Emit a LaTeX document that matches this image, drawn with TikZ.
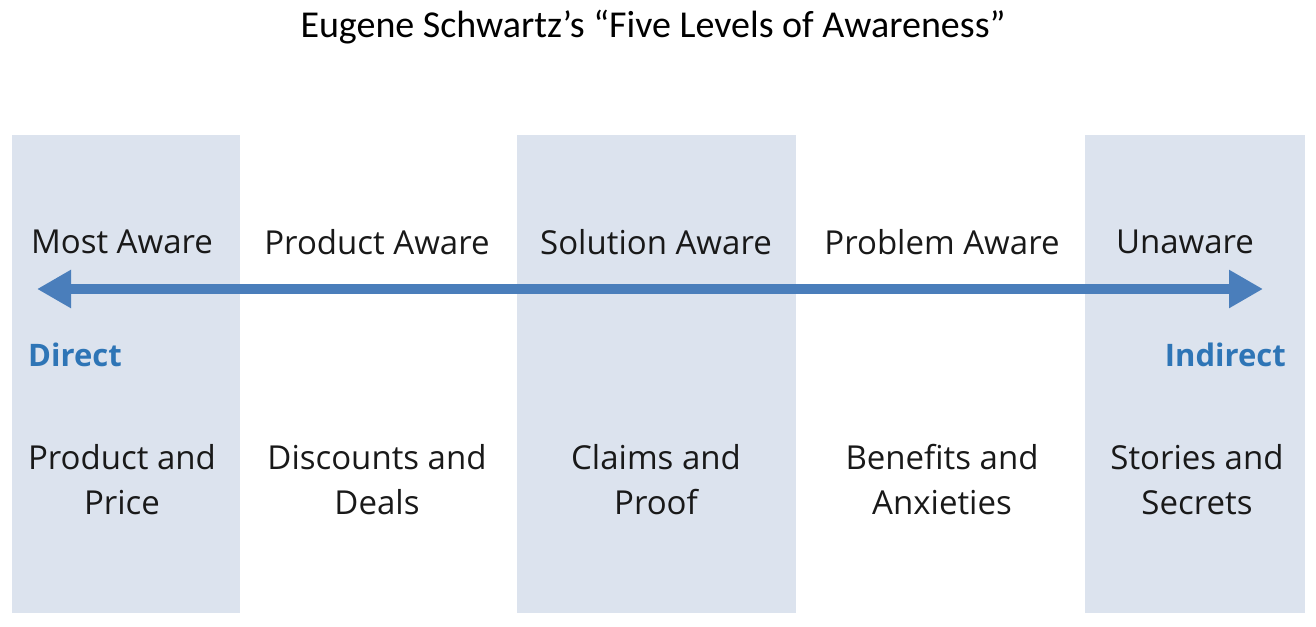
\documentclass[tikz,border=0pt]{standalone}
\usepackage{fontspec}
\setmainfont{Open Sans}
\newfontfamily\titlefont{Carlito}
\usetikzlibrary{arrows.meta}
\definecolor{colbg}{HTML}{DCE3EE}
\definecolor{arrblue}{HTML}{4A7EBB}
\definecolor{lblblue}{HTML}{2E75B6}
\tikzset{
  level/.style={font=\fontsize{33}{38}\selectfont, text=black!90, anchor=center, inner sep=0pt},
  tactic/.style={font=\fontsize{33}{45}\selectfont, text=black!90, align=center, anchor=center, inner sep=0pt},
  mode/.style={font=\fontsize{31}{36}\selectfont\bfseries, text=lblblue, inner sep=0pt},
}
\begin{document}
\begin{tikzpicture}[x=1pt,y=-1pt]
\useasboundingbox (0,0) rectangle (1316,626);
\fill[colbg] (12,135) rectangle (240,613);
\fill[colbg] (517,135) rectangle (796,613);
\fill[colbg] (1085,135) rectangle (1305,613);
\node[font=\titlefont\fontsize{38}{44}\selectfont, inner sep=0pt] (title) at (653,27) {Eugene Schwartz’s “Five Levels of Awareness”};
\node[level] (l1) at (122,242) {Most Aware};
\node[level] (l2) at (377,242) {Product Aware};
\node[level] (l3) at (656,242) {Solution Aware};
\node[level] (l4) at (942,242) {Problem Aware};
\node[level] (l5) at (1185,242) {Unaware};
\coordinate (aL) at (37,289);
\coordinate (aR) at (1263,289);
\draw[arrblue, line width=10pt, {Triangle[width=36pt,length=34pt]}-{Triangle[width=36pt,length=34pt]}] (aL) -- (aR);
\node[mode, anchor=west] (direct) at (28,355) {Direct};
\node[mode, anchor=east] (indirect) at (1286,355) {Indirect};
\node[tactic] (t1) at (122,480) {Product and\\Price};
\node[tactic] (t2) at (377,480) {Discounts and\\Deals};
\node[tactic] (t3) at (656,480) {Claims and\\Proof};
\node[tactic] (t4) at (942,480) {Benefits and\\Anxieties};
\node[tactic] (t5) at (1197,480) {Stories and\\Secrets};
\end{tikzpicture}
\end{document}
